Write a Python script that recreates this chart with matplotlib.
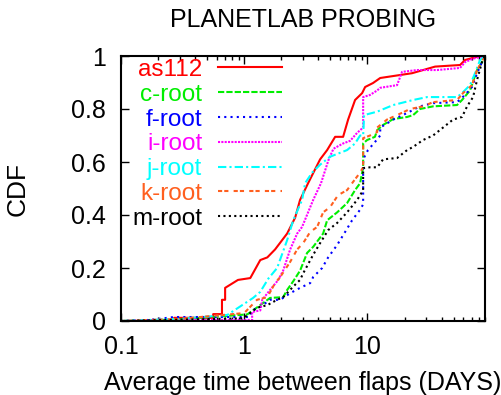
import matplotlib
matplotlib.use("Agg")
import matplotlib.pyplot as plt
from matplotlib.ticker import LogLocator, FixedLocator, FuncFormatter

plt.rcParams['font.family'] = ['Liberation Sans', 'DejaVu Sans']

# CDF of average time between flaps (days), per prefix
as112_x = [0.1, 0.27, 0.27, 0.56, 0.56, 0.66, 0.66, 0.70, 0.70, 0.89, 1.12, 1.35, 1.54, 1.78,
           2.23, 2.59, 2.84, 3.30, 4.13, 4.71, 5.47, 6.35, 6.97, 7.94, 9.06, 9.58, 11.1, 12.7,
           23.0, 35.4, 56.5, 62.0, 70.6, 82.0, 90.0]
as112_y = [0.0, 0.0, 0.012, 0.012, 0.026, 0.026, 0.08, 0.08, 0.125, 0.155, 0.162, 0.23, 0.24, 0.27,
           0.33, 0.39, 0.457, 0.52, 0.61, 0.645, 0.695, 0.695, 0.76, 0.834, 0.86, 0.883, 0.898, 0.917,
           0.935, 0.96, 0.966, 0.985, 0.992, 1.0, 1.0]

croot_x = [0.1, 0.3, 1.06, 1.35, 1.62, 2.07, 2.23, 2.50, 2.84, 3.24, 3.63, 4.37, 4.71, 5.68, 6.84,
           7.94, 8.72, 9.06, 9.23, 9.23, 9.95, 11.5, 12.0, 13.4, 16.2, 21.0, 23.5, 26.7, 34.1, 53.4,
           58.6, 68.0, 77.6, 85.1, 90.0]
croot_y = [0.0, 0.006, 0.025, 0.06, 0.087, 0.09, 0.117, 0.15, 0.19, 0.257, 0.28, 0.33, 0.38, 0.41, 0.445,
           0.494, 0.52, 0.56, 0.58, 0.67, 0.683, 0.695, 0.72, 0.74, 0.762, 0.77, 0.777, 0.80, 0.81, 0.815,
           0.834, 0.87, 0.947, 0.977, 1.0]

froot_x = [0.1, 0.17, 0.27, 1.10, 1.16, 1.35, 1.62, 1.96, 2.36, 2.84, 3.43, 3.63, 4.29, 4.80, 5.68,
           6.59, 7.51, 8.72, 9.23, 9.23, 10.1, 11.5, 12.7, 12.7, 16.2, 21.0, 26.7, 34.1, 53.4, 62.0,
           70.6, 77.6, 85.1, 90.0]
froot_y = [0.0, 0.004, 0.015, 0.015, 0.04, 0.053, 0.08, 0.08, 0.105, 0.125, 0.143, 0.166, 0.2, 0.24, 0.287,
           0.336, 0.38, 0.42, 0.44, 0.61, 0.645, 0.675, 0.70, 0.73, 0.76, 0.785, 0.81, 0.822, 0.826, 0.853,
           0.883, 0.935, 0.977, 1.0]

iroot_x = [0.1, 0.3, 1.16, 1.16, 1.35, 1.40, 1.62, 1.89, 2.07, 2.36, 2.69, 2.95, 3.63, 4.20, 4.85,
           5.30, 6.35, 7.24, 8.25, 9.23, 9.23, 10.5, 12.0, 12.7, 17.4, 19.1, 25.3, 36.7, 56.5, 62.0,
           72.0, 90.0]
iroot_y = [0.0, 0.004, 0.004, 0.034, 0.04, 0.08, 0.117, 0.155, 0.19, 0.27, 0.33, 0.355, 0.457, 0.52, 0.61,
           0.65, 0.67, 0.68, 0.71, 0.73, 0.845, 0.853, 0.87, 0.88, 0.89, 0.94, 0.947, 0.947, 0.955, 0.977,
           0.99, 1.0]

jroot_x = [0.1, 0.3, 0.73, 1.18, 1.35, 1.57, 1.85, 2.23, 2.50, 2.95, 3.12, 3.56, 4.13, 4.98, 6.84,
           7.94, 8.72, 9.23, 9.40, 12.0, 16.2, 23.5, 30.5, 53.4, 58.6, 68.0, 74.7, 82.0, 90.0]
jroot_y = [0.0, 0.008, 0.023, 0.087, 0.11, 0.16, 0.20, 0.305, 0.38, 0.457, 0.52, 0.56, 0.59, 0.62, 0.645,
           0.67, 0.70, 0.70, 0.777, 0.79, 0.815, 0.834, 0.845, 0.845, 0.86, 0.89, 0.935, 0.985, 1.0]

kroot_x = [0.1, 0.3, 1.0, 1.27, 1.54, 1.78, 1.96, 2.36, 2.69, 3.01, 3.43, 3.91, 4.37, 4.98, 5.78,
           6.84, 7.65, 8.72, 9.23, 9.23, 10.5, 12.0, 12.0, 14.4, 17.4, 22.2, 28.3, 34.1, 53.4, 59.7,
           70.6, 77.6, 90.0]
kroot_y = [0.0, 0.008, 0.03, 0.08, 0.09, 0.143, 0.166, 0.223, 0.27, 0.294, 0.336, 0.355, 0.41, 0.43, 0.475,
           0.494, 0.525, 0.56, 0.58, 0.69, 0.70, 0.713, 0.73, 0.76, 0.777, 0.80, 0.81, 0.826, 0.834, 0.86,
           0.89, 0.947, 1.0]

mroot_x = [0.1, 0.3, 0.98, 1.27, 1.54, 1.85, 2.07, 2.50, 2.84, 3.01, 3.63, 4.13, 4.80, 5.68, 6.84,
           8.25, 9.06, 9.23, 9.23, 10.5, 12.0, 13.4, 17.4, 21.0, 23.5, 28.3, 34.1, 41.1, 49.5, 58.6,
           64.4, 72.0, 77.6, 85.1, 90.0]
mroot_y = [0.0, 0.005, 0.01, 0.05, 0.06, 0.08, 0.09, 0.13, 0.155, 0.18, 0.25, 0.294, 0.343, 0.37, 0.41,
           0.457, 0.487, 0.49, 0.577, 0.58, 0.58, 0.61, 0.615, 0.645, 0.657, 0.683, 0.70, 0.73, 0.76, 0.77,
           0.81, 0.845, 0.91, 0.977, 1.0]

labels = ['as112', 'c-root', 'f-root', 'i-root', 'j-root', 'k-root', 'm-root']
series = [(as112_x, as112_y), (croot_x, croot_y), (froot_x, froot_y), (iroot_x, iroot_y),
          (jroot_x, jroot_y), (kroot_x, kroot_y), (mroot_x, mroot_y)]
colors = ['#ff0000', '#00ee00', '#0000ff', '#ff00ff', '#00ffff', '#ff5f1f', '#000000']
dash_styles = [None, (3, 1), (1, 2), (1, 0.6), (4, 1.5, 1, 1.5), (2, 1, 2, 2.5), (1, 1.6)]

fig = plt.figure(figsize=(5.01, 3.95), dpi=100)
ax = fig.add_axes([121 / 501, 74 / 395, 364 / 501, 265 / 395])

for (xs, ys), lab, col, ds in zip(series, labels, colors, dash_styles):
    line, = ax.plot(xs, ys, color=col, lw=1.5, label=lab)
    if ds is not None:
        line.set_dashes(ds)

ax.set_xscale('log')
ax.set_xlim(0.1, 90)
ax.set_ylim(0, 1)

ax.xaxis.set_major_locator(FixedLocator([0.1, 1, 10]))
ax.xaxis.set_major_formatter(FuncFormatter(lambda v, p: '%g' % v))
ax.xaxis.set_minor_locator(LogLocator(base=10, subs=range(2, 10)))
ax.xaxis.set_minor_formatter(FuncFormatter(lambda v, p: ''))
ax.yaxis.set_major_locator(FixedLocator([0, 0.2, 0.4, 0.6, 0.8, 1.0]))
ax.yaxis.set_major_formatter(FuncFormatter(lambda v, p: '%g' % v))

ax.tick_params(which='both', direction='in', top=True, right=True, labelsize=18, width=1.0)
ax.tick_params(which='major', length=6)
ax.tick_params(which='minor', length=3)
ax.tick_params(axis='x', pad=10)
ax.tick_params(axis='y', pad=11)
for s in ax.spines.values():
    s.set_linewidth(1.5)

ax.set_xlabel('Average time between flaps (DAYS)', fontsize=18, labelpad=9)
ax.set_ylabel('CDF', fontsize=19, labelpad=30)
ax.set_title('PLANETLAB PROBING', fontsize=18, pad=21)

leg = ax.legend(loc='upper right', bbox_to_anchor=(0.451, 1.0), markerfirst=False,
                frameon=False, fontsize=17.5, labelcolor='linecolor', handlelength=2.63,
                handletextpad=0.66, labelspacing=0.115, borderaxespad=0.0, borderpad=0.12)

fig.savefig('out.png', dpi=100)
